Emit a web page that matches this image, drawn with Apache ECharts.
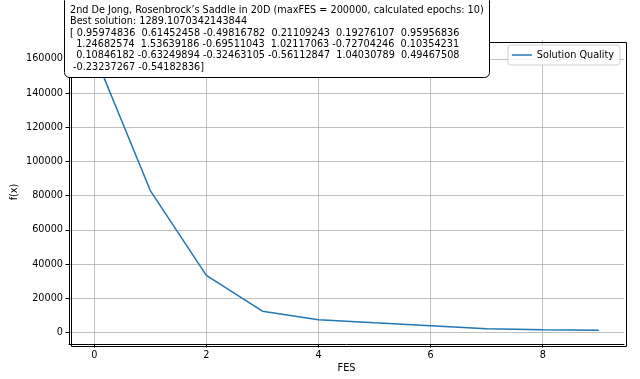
<!DOCTYPE html>
<html>
<head>
<meta charset="utf-8">
<script src="https://cdn.jsdelivr.net/npm/echarts@6/dist/echarts.min.js"></script>
<style>html,body{margin:0;padding:0;background:#fff;}#c{width:640px;height:379px;}</style>
</head>
<body>
<div id="c"></div>
<script>
const fes = [0, 1, 2, 3, 4, 5, 6, 7, 8, 9];
const quality = [163000, 83000, 33400, 12400, 7400, 5600, 3900, 2100, 1600, 1289];
const xTicks = [0, 2, 4, 6, 8];
const yTicks = [0, 20000, 40000, 60000, 80000, 100000, 120000, 140000, 160000];
const titleLines = [
  '2nd De Jong, Rosenbrock\u2019s Saddle in 20D (maxFES = 200000, calculated epochs: 10)',
  'Best solution: 1289.1070342143844',
  '[ 0.95974836  0.61452458 -0.49816782  0.21109243  0.19276107  0.95956836',
  '  1.24682574  1.53639186 -0.69511043  1.02117063 -0.72704246  0.10354231',
  '  0.10846182 -0.63249894 -0.32463105 -0.56112847  1.04030789  0.49467508',
  ' -0.23237267 -0.54182836]'
];
const seriesName = 'Solution Quality';

const font = 'DejaVu Sans';
const fs = 9.7;
const chart = echarts.init(document.getElementById('c'), null, {renderer: 'canvas'});
const gridLine = {show: true, lineStyle: {color: '#b0b0b0', width: 0.8}};
const axisLine = {show: true, onZero: false, lineStyle: {color: '#000', width: 1}};
chart.setOption({
  animation: false,
  backgroundColor: '#fff',
  grid: {left: 69, right: 16, top: 40, bottom: 35, containLabel: false, outerBoundsMode: 'none'},
  title: {
    text: titleLines.join('\n'),
    left: 64, top: -5,
    padding: [10, 6, 5, 6],
    backgroundColor: '#fff',
    borderColor: '#000', borderWidth: 1, borderRadius: 5,
    textStyle: {fontFamily: font, fontSize: fs, fontWeight: 'normal', color: '#000', lineHeight: 11.3},
    z: 20
  },
  legend: {
    data: [seriesName],
    right: 20, top: 45,
    orient: 'vertical',
    icon: 'rect', itemWidth: 20, itemHeight: 1.5, itemGap: 5,
    padding: [5, 6, 5, 4],
    borderColor: '#d0d0d0', borderWidth: 1, borderRadius: 3,
    backgroundColor: 'rgba(255,255,255,0.8)',
    textStyle: {fontFamily: font, fontSize: fs, color: '#000'}
  },
  xAxis: {
    type: 'value', min: -0.45, max: 9.45,
    name: 'FES', nameLocation: 'middle', nameGap: 19, nameMoveOverlap: false,
    nameTextStyle: {fontFamily: font, fontSize: fs, color: '#000'},
    axisLine: axisLine,
    axisTick: {show: true, length: 3.5, inside: false, customValues: xTicks, lineStyle: {color: '#000'}},
    axisLabel: {fontFamily: font, fontSize: fs, color: '#000', margin: 6, customValues: xTicks,
      formatter: v => String(v)},
    splitLine: gridLine
  },
  yAxis: {
    type: 'value', min: -6800, max: 171100,
    name: 'f(x)', nameLocation: 'middle', nameGap: 50, nameRotate: 90, nameMoveOverlap: false,
    nameTextStyle: {fontFamily: font, fontSize: fs, color: '#000'},
    axisLine: axisLine,
    axisTick: {show: true, length: 3.5, inside: false, customValues: yTicks, lineStyle: {color: '#000'}},
    axisLabel: {fontFamily: font, fontSize: fs, color: '#000', margin: 6, customValues: yTicks,
      formatter: v => String(v)},
    splitLine: gridLine
  },
  series: [{
    name: seriesName,
    type: 'line',
    data: fes.map((x, i) => [x, quality[i]]),
    showSymbol: false, symbol: 'none',
    lineStyle: {color: '#1f77b4', width: 1.5},
    itemStyle: {color: '#1f77b4'},
    z: 5
  }],
  graphic: [{
    type: 'rect', left: 69, top: 40, z: 4, silent: true,
    shape: {width: 555, height: 304},
    style: {fill: 'none', stroke: '#000', lineWidth: 1}
  }]
});
</script>
</body>
</html>
